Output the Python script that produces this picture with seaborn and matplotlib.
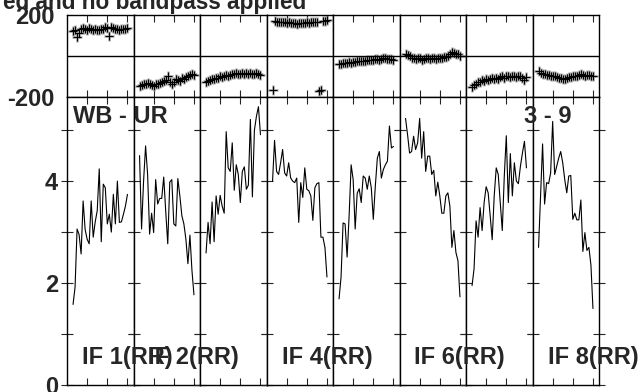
import numpy as np
import pandas as pd
import seaborn as sns
import matplotlib
matplotlib.use("Agg")
import matplotlib.pyplot as plt

# ---- data ----
channels = list(range(3, 31))   # 28 channels shown per IF
if_labels = {0: "IF 1(RR)", 1: "IF 2(RR)", 3: "IF 4(RR)", 5: "IF 6(RR)", 7: "IF 8(RR)"}

amp_if1 = [1.58, 1.92, 3.06, 2.95, 2.57, 3.61, 3.05, 2.86, 2.77, 3.61, 2.9, 3.2, 3.42, 4.24,
           2.81, 3.94, 3.87, 3.16, 3.35, 3.0, 3.74, 3.16, 4.0, 3.19, 3.2, 3.35, 3.51, 3.74]
amp_if2 = [4.5, 3.06, 4.0, 4.69, 4.13, 2.96, 3.37, 2.99, 4.03, 3.55, 3.66, 3.66, 4.08, 3.4,
           2.77, 3.98, 4.03, 3.16, 3.12, 4.05, 3.71, 3.32, 3.16, 2.86, 2.38, 2.94, 2.25, 1.77]
amp_if3 = [2.59, 3.19, 2.77, 3.59, 2.81, 3.71, 3.35, 3.72, 3.51, 3.37, 4.97, 4.26, 4.19, 4.75,
           3.82, 4.32, 4.13, 3.58, 4.19, 4.28, 3.84, 3.92, 5.21, 3.69, 5.0, 5.27, 5.46, 4.91]
amp_if4 = [4.0, 4.8, 4.19, 4.13, 4.36, 4.62, 4.16, 4.1, 4.36, 4.06, 4.0, 3.97, 4.06, 3.19,
           3.97, 3.68, 4.26, 3.84, 3.81, 3.71, 3.23, 3.87, 3.95, 3.97, 2.9, 2.9, 2.7, 2.12]
amp_if5 = [1.69, 2.12, 3.18, 3.16, 2.51, 3.32, 4.32, 4.03, 3.06, 3.76, 3.85, 3.58, 4.1, 4.06,
           3.84, 4.1, 3.87, 3.25, 3.9, 4.45, 4.58, 4.06, 4.23, 4.32, 4.39, 5.08, 4.65, 4.68]
amp_if6 = [5.23, 4.91, 4.55, 4.58, 4.88, 4.62, 4.75, 5.23, 4.45, 4.97, 4.19, 4.49, 4.49, 4.13,
           4.21, 3.71, 3.98, 3.71, 3.37, 3.37, 3.71, 3.77, 3.51, 2.7, 3.03, 2.6, 2.44, 1.73]
amp_if7 = [1.95, 2.28, 3.22, 2.9, 3.48, 3.03, 3.58, 3.89, 3.77, 3.32, 2.85, 3.71, 4.26, 4.13,
           3.58, 3.03, 4.1, 4.89, 3.58, 4.54, 3.71, 4.36, 4.0, 3.95, 4.29, 4.55, 4.78, 4.26]
amp_if8 = [2.7, 3.71, 4.73, 3.55, 3.97, 3.95, 4.16, 5.17, 4.13, 4.29, 4.45, 4.58, 4.36, 4.03,
           3.77, 4.1, 4.11, 3.25, 3.37, 3.24, 3.24, 3.63, 2.62, 2.99, 2.64, 2.7, 2.35, 1.5]

ph_if1 = [120, 125, 95, 110, 132, 135, 130, 128, 138, 130, 127, 134, 128, 125,
          132, 130, 140, 138, 100, 142, 135, 132, 130, 128, 134, 130, 132, 135]
ph_if2 = [-148, -140, -135, -138, -132, -135, -140, -145, -135, -138, -130, -125, -120, -118,
          -100, -128, -135, -125, -110, -115, -120, -105, -110, -102, -98, -95, -90, -92]
ph_if3 = [-125, -120, -118, -112, -110, -105, -108, -100, -102, -98, -95, -96, -92, -88,
          -90, -85, -88, -86, -84, -88, -85, -86, -84, -88, -90, -82, -86, -95]
ph_if4 = [-165, 170, 168, 165, 166, 164, 168, 163, 165, 160, 162, 160, 158, 161,
          163, 160, 162, 164, 163, 165, 166, 168, 165, -170, -168, 172, 170, 175]
ph_if5 = [-40, -38, -35, -36, -32, -30, -33, -28, -27, -26, -25, -24, -22, -23,
          -20, -19, -18, -20, -16, -15, -18, -14, -10, -12, -15, -14, -16, -18]
ph_if6 = [10, 6, 0, -8, -12, -15, -10, -12, -18, -14, -12, -10, -16, -12,
          -10, -14, -12, -8, -10, -5, -3, 2, 8, 18, 15, 12, 8, 2]
ph_if7 = [-150, -140, -135, -128, -125, -118, -120, -112, -115, -110, -108, -112, -105, -110,
          -102, -100, -105, -98, -100, -102, -98, -100, -103, -100, -98, -105, -115, -102]
ph_if8 = [-75, -85, -90, -88, -92, -95, -98, -96, -100, -102, -105, -108, -110, -112,
          -108, -104, -102, -100, -96, -98, -92, -90, -94, -96, -92, -95, -98, -100]

amps = [amp_if1, amp_if2, amp_if3, amp_if4, amp_if5, amp_if6, amp_if7, amp_if8]
phases = [ph_if1, ph_if2, ph_if3, ph_if4, ph_if5, ph_if6, ph_if7, ph_if8]

# ---- style ----
sns.set_style("ticks")
plt.rcParams["font.family"] = ["Liberation Sans", "DejaVu Sans"]
plt.rcParams["font.weight"] = "bold"
FS = 17

fig = plt.figure(figsize=(6.4, 3.92), dpi=100)
gs = fig.add_gridspec(2, 8, left=67/640, right=599/640, top=1-15/392, bottom=1-385/392,
                      hspace=0, wspace=0, height_ratios=[82, 288])

for i in range(8):
    df = pd.DataFrame({"chan": channels, "amp": amps[i], "phase": phases[i]})

    # phase panel
    axp = fig.add_subplot(gs[0, i])
    sns.scatterplot(data=df, x="chan", y="phase", ax=axp, marker="+", color="#aaaaaa",
                    s=60, linewidth=1.8, legend=False)
    sns.scatterplot(data=df, x="chan", y="phase", ax=axp, marker="+", color="black",
                    s=40, linewidth=0.8, legend=False)
    axp.axhline(0, color="black", lw=1)
    axp.set_xlim(0, 33)
    axp.set_ylim(-200, 200)
    axp.set_xticks([10, 20, 30])
    axp.set_yticks([-200, 200])
    axp.tick_params(axis="x", which="both", direction="in", top=True, bottom=True,
                    length=5, width=0.8, labelbottom=False)
    axp.tick_params(axis="y", length=0, pad=9, labelsize=FS)
    if i == 0:
        axp.set_yticklabels(["-200", "200"], fontweight="bold")
    else:
        axp.set_yticklabels([])
    axp.set_xlabel("")
    axp.set_ylabel("")

    # amplitude panel
    axa = fig.add_subplot(gs[1, i])
    sns.lineplot(data=df, x="chan", y="amp", ax=axa, color="black", linewidth=0.8)
    axa.set_xlim(0, 33)
    axa.set_ylim(0, 5.65)
    axa.set_xticks([10, 20, 30])
    axa.set_yticks([0, 1, 2, 3, 4, 5])
    axa.tick_params(axis="x", direction="in", top=True, bottom=True, length=5, width=0.8,
                    labelbottom=False)
    axa.tick_params(axis="y", direction="inout", left=True, right=True, length=9, width=0.8,
                    pad=2, labelsize=FS)
    if i == 0:
        axa.set_yticklabels(["0", "", "2", "", "4", ""], fontweight="bold")
    else:
        axa.set_yticklabels([])
    axa.set_xlabel("")
    axa.set_ylabel("")

    for ax in (axp, axa):
        for sp in ax.spines.values():
            sp.set_visible(True)
            sp.set_color("black")
            sp.set_linewidth(1)

# panel labels drawn at figure level so neighbouring panels don't hide them
for i, lab in if_labels.items():
    x0 = 67 + i * 66.5 + 15
    fig.text(x0/640, 1-364/392, lab, fontsize=FS, fontweight="bold", ha="left", va="baseline")

fig.text(73/640, 1-123/392, "WB - UR", fontsize=FS, fontweight="bold", ha="left", va="baseline")
fig.text(548/640, 1-123/392, "3 - 9", fontsize=FS, fontweight="bold", ha="center", va="baseline")
fig.text(306/640, 1-9/392, "ed and no bandpass applied", fontsize=16.3, fontweight="bold",
         ha="right", va="baseline")

fig.savefig("out.png", dpi=100)
